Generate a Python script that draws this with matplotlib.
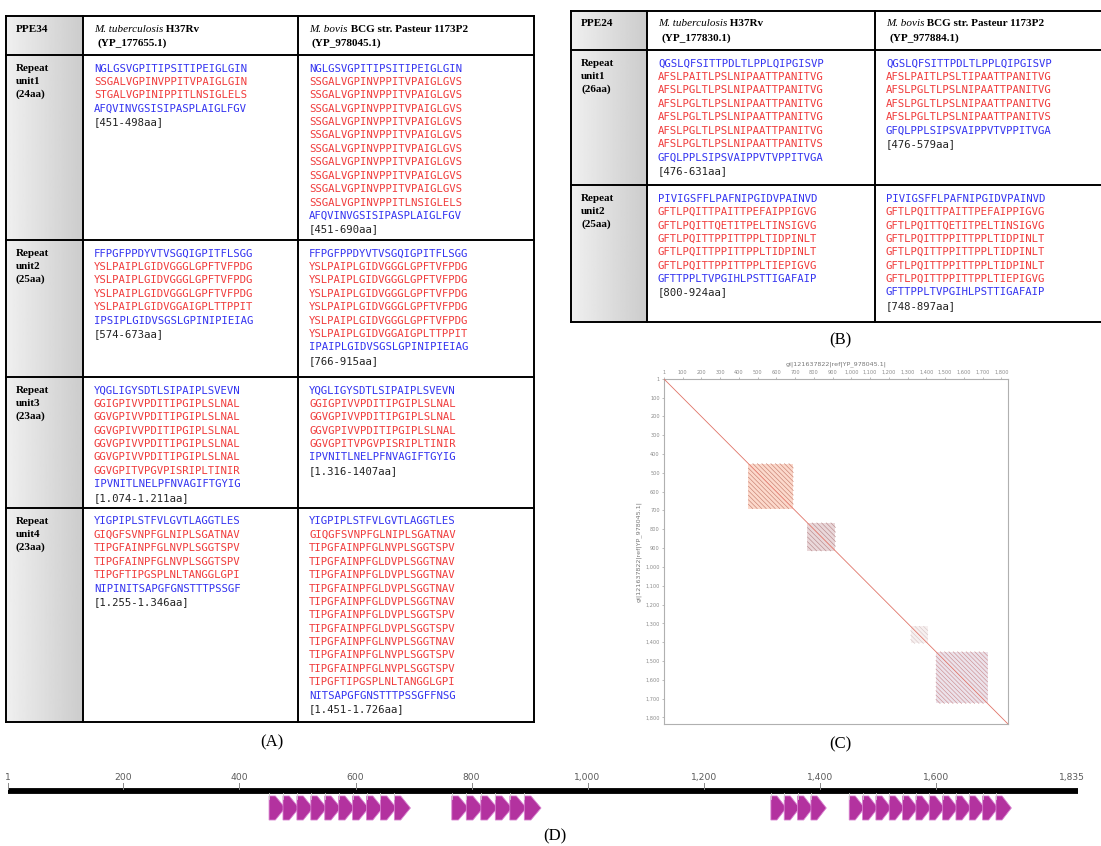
import numpy as np
import matplotlib.pyplot as plt
from matplotlib.patches import Polygon, Rectangle

W, H = 1101, 846

# ---------- (A) PPE34 ----------
ppe34_name = 'PPE34'
ppe34_italic = ['M. tuberculosis', 'M. bovis']
ppe34_bold = [' H37Rv', ' BCG str. Pasteur 1173P2']
ppe34_acc = ['(YP_177655.1)', '(YP_978045.1)']
ppe34_units = ['unit1', 'unit2', 'unit3', 'unit4']
ppe34_unit_len = ['(24aa)', '(25aa)', '(23aa)', '(23aa)']

ppe34_tb = [
    ['NGLGSVGPITIPSITIPEIGLGIN', 'SSGALVGPINVPPITVPAIGLGIN', 'STGALVGPINIPPITLNSIGLELS',
     'AFQVINVGSISIPASPLAIGLFGV'],
    ['FFPGFPPDYVTVSGQIGPITFLSGG', 'YSLPAIPLGIDVGGGLGPFTVFPDG', 'YSLPAIPLGIDVGGGLGPFTVFPDG',
     'YSLPAIPLGIDVGGGLGPFTVFPDG', 'YSLPAIPLGIDVGGAIGPLTTPPIT', 'IPSIPLGIDVSGSLGPINIPIEIAG'],
    ['YQGLIGYSDTLSIPAIPLSVEVN', 'GGIGPIVVPDITIPGIPLSLNAL', 'GGVGPIVVPDITIPGIPLSLNAL',
     'GGVGPIVVPDITIPGIPLSLNAL', 'GGVGPIVVPDITIPGIPLSLNAL', 'GGVGPIVVPDITIPGIPLSLNAL',
     'GGVGPITVPGVPISRIPLTINIR', 'IPVNITLNELPFNVAGIFTGYIG'],
    ['YIGPIPLSTFVLGVTLAGGTLES', 'GIQGFSVNPFGLNIPLSGATNAV', 'TIPGFAINPFGLNVPLSGGTSPV',
     'TIPGFAINPFGLNVPLSGGTSPV', 'TIPGFTIPGSPLNLTANGGLGPI', 'NIPINITSAPGFGNSTTTPSSGF'],
]
ppe34_tb_range = ['[451-498aa]', '[574-673aa]', '[1.074-1.211aa]', '[1.255-1.346aa]']

ppe34_bovis = [
    ['NGLGSVGPITIPSITIPEIGLGIN'] + ['SSGALVGPINVPPITVPAIGLGVS'] * 9 +
    ['SSGALVGPINVPPITLNSIGLELS', 'AFQVINVGSISIPASPLAIGLFGV'],
    ['FFPGFPPDYVTVSGQIGPITFLSGG'] + ['YSLPAIPLGIDVGGGLGPFTVFPDG'] * 5 +
    ['YSLPAIPLGIDVGGAIGPLTTPPIT', 'IPAIPLGIDVSGSLGPINIPIEIAG'],
    ['YQGLIGYSDTLSIPAIPLSVEVN', 'GGIGPIVVPDITIPGIPLSLNAL', 'GGVGPIVVPDITIPGIPLSLNAL',
     'GGVGPIVVPDITIPGIPLSLNAL', 'GGVGPITVPGVPISRIPLTINIR', 'IPVNITLNELPFNVAGIFTGYIG'],
    ['YIGPIPLSTFVLGVTLAGGTLES', 'GIQGFSVNPFGLNIPLSGATNAV', 'TIPGFAINPFGLNVPLSGGTSPV'] +
    ['TIPGFAINPFGLDVPLSGGTNAV'] * 4 + ['TIPGFAINPFGLDVPLSGGTSPV'] * 2 +
    ['TIPGFAINPFGLNVPLSGGTNAV'] + ['TIPGFAINPFGLNVPLSGGTSPV'] * 2 +
    ['TIPGFTIPGSPLNLTANGGLGPI', 'NITSAPGFGNSTTTPSSGFFNSG'],
]
ppe34_bovis_range = ['[451-690aa]', '[766-915aa]', '[1.316-1407aa]', '[1.451-1.726aa]']

# ---------- (B) PPE24 ----------
ppe24_name = 'PPE24'
ppe24_italic = ['M. tuberculosis', 'M. bovis']
ppe24_bold = [' H37Rv', ' BCG str. Pasteur 1173P2']
ppe24_acc = ['(YP_177830.1)', '(YP_977884.1)']
ppe24_units = ['unit1', 'unit2']
ppe24_unit_len = ['(26aa)', '(25aa)']

ppe24_tb = [
    ['QGSLQFSITTPDLTLPPLQIPGISVP', 'AFSLPAITLPSLNIPAATTPANITVG'] +
    ['AFSLPGLTLPSLNIPAATTPANITVG'] * 4 +
    ['AFSLPGLTLPSLNIPAATTPANITVS', 'GFQLPPLSIPSVAIPPVTVPPITVGA'],
    ['PIVIGSFFLPAFNIPGIDVPAINVD', 'GFTLPQITTPAITTPEFAIPPIGVG', 'GFTLPQITTQETITPELTINSIGVG'] +
    ['GFTLPQITTPPITTPPLTIDPINLT'] * 2 +
    ['GFTLPQITTPPITTPPLTIEPIGVG', 'GFTTPPLTVPGIHLPSTTIGAFAIP'],
]
ppe24_tb_range = ['[476-631aa]', '[800-924aa]']

ppe24_bovis = [
    ['QGSLQFSITTPDLTLPPLQIPGISVP', 'AFSLPAITLPSLTIPAATTPANITVG'] +
    ['AFSLPGLTLPSLNIPAATTPANITVG'] * 2 +
    ['AFSLPGLTLPSLNIPAATTPANITVS', 'GFQLPPLSIPSVAIPPVTVPPITVGA'],
    ['PIVIGSFFLPAFNIPGIDVPAINVD', 'GFTLPQITTPAITTPEFAIPPIGVG', 'GFTLPQITTQETITPELTINSIGVG'] +
    ['GFTLPQITTPPITTPPLTIDPINLT'] * 3 +
    ['GFTLPQITTPPITTPPLTIEPIGVG', 'GFTTPPLTVPGIHLPSTTIGAFAIP'],
]
ppe24_bovis_range = ['[476-579aa]', '[748-897aa]']

# ---------- (C)/(D) M. bovis PPE34 protein ----------
bovis_len = 1835
bovis_unit_aa = [24, 25, 23, 23]
dot_ticks = [1, 100, 200, 300, 400, 500, 600, 700, 800, 900, 1000, 1100, 1200,
             1300, 1400, 1500, 1600, 1700, 1800]
track_ticks = [1, 200, 400, 600, 800, 1000, 1200, 1400, 1600, 1835]
seq_id = 'gi|121637822|ref|YP_978045.1|'


def parse_range(s):
    a, b = s.strip('[]').replace('aa', '').replace('.', '').split('-')
    return int(a), int(b)


bovis_repeats = [parse_range(r) + (p,) for r, p in zip(ppe34_bovis_range, bovis_unit_aa)]

SERIF = 'Liberation Serif'
MONO = 'DejaVu Sans Mono'
BLUE = '#3434f0'
RED = '#f03c3c'
STEP = 13.4

fig = plt.figure(figsize=(W / 100, H / 100), dpi=100)
ax = fig.add_axes([0, 0, 1, 1])


def header(x, y, ital, bold, acc):
    t = ax.text(x, y, ital, fontfamily=SERIF, fontsize=8, fontstyle='italic', va='center')
    ax.annotate(bold, xy=(1, 0), xycoords=t, va='bottom', ha='left',
                fontfamily=SERIF, fontsize=8, fontweight='bold')
    ax.text(x + 3, y + 14, acc, fontfamily=SERIF, fontsize=8, fontweight='bold', va='center')


def seq_block(x, y, seqs, rng):
    for i, s in enumerate(seqs):
        c = BLUE if i in (0, len(seqs) - 1) else RED
        ax.text(x, y + i * STEP, s, fontfamily=MONO, fontsize=7.7, color=c, va='center')
    ax.text(x, y + len(seqs) * STEP, rng, fontfamily=MONO, fontsize=7.7, color='#222222',
            va='center')


def table(xs, ys, name, ital, bold, acc, units, ulen, tb, tb_rng, bv, bv_rng, hy):
    grad = np.linspace(0.94, 0.80, 60)[None, :]
    ax.imshow(grad, extent=(xs[0], xs[1], ys[-1], ys[0]), cmap='gray', vmin=0, vmax=1,
              aspect='auto', zorder=0)
    for y in ys:
        ax.plot([xs[0], xs[-1]], [y, y], color='black', lw=1.4, solid_capstyle='projecting')
    for x in xs:
        ax.plot([x, x], [ys[0], ys[-1]], color='black', lw=1.4, solid_capstyle='projecting')
    ax.text(xs[0] + 10, hy, name, fontfamily=SERIF, fontsize=8, fontweight='bold', va='center')
    for j in range(2):
        header(xs[j + 1] + 11, hy, ital[j], bold[j], acc[j])
    for i in range(len(units)):
        top = ys[i + 1] + 13.5
        for k, lab in enumerate(['Repeat', units[i], ulen[i]]):
            ax.text(xs[0] + 10, top + k * 13, lab, fontfamily=SERIF, fontsize=8,
                    fontweight='bold', va='center')
        seq_block(xs[1] + 11, top, tb[i], tb_rng[i])
        seq_block(xs[2] + 11, top, bv[i], bv_rng[i])


table([6, 83, 298, 534], [16, 55, 240, 377, 508, 722], ppe34_name, ppe34_italic, ppe34_bold,
      ppe34_acc, ppe34_units, ppe34_unit_len, ppe34_tb, ppe34_tb_range, ppe34_bovis,
      ppe34_bovis_range, 29)
table([571, 647, 875, 1105], [11, 50, 185, 322], ppe24_name, ppe24_italic, ppe24_bold,
      ppe24_acc, ppe24_units, ppe24_unit_len, ppe24_tb, ppe24_tb_range, ppe24_bovis,
      ppe24_bovis_range, 24)

for lab, x, y in [('(A)', 272, 742), ('(B)', 840, 340), ('(C)', 840, 744), ('(D)', 555, 836)]:
    ax.text(x, y, lab, fontfamily=SERIF, fontsize=12, ha='center', va='center')

ax.set_xlim(0, W)
ax.set_ylim(H, 0)
ax.axis('off')

# ---------- (C) dot plot ----------
dp = fig.add_axes([664 / W, 1 - 724 / H, 344 / W, 345 / H])
dp.set_xlim(1, bovis_len)
dp.set_ylim(bovis_len, 1)
fills = ['#fcd9cc', '#ead8da', '#f7f0f0', '#ece2ea']
hatch = ['#c78070', '#b88a8c', '#d8c8c8', '#cc8f92']
for (s, e, p), fc, hc in zip(bovis_repeats, fills, hatch):
    dp.add_patch(Rectangle((s, s), e - s, e - s, facecolor=fc, edgecolor='none', zorder=1))
    n = (e - s + 1) // p
    for k in range(1, n):
        off = k * p
        dp.plot([s + off, e], [s, e - off], color=hc, lw=0.45, zorder=2)
        dp.plot([s, e - off], [s + off, e], color=hc, lw=0.45, zorder=2)
dp.plot([1, bovis_len], [1, bovis_len], color='#e07468', lw=0.6, zorder=3)
dp.xaxis.tick_top()
dp.set_xticks(dot_ticks)
dp.set_yticks(dot_ticks)
dp.set_xticklabels([f'{t:,}' for t in dot_ticks])
dp.set_yticklabels([f'{t:,}' for t in dot_ticks])
dp.tick_params(labelsize=3.6, colors='#8a8a8a', length=1.5, width=0.4, pad=1.5)
dp.xaxis.set_label_position('top')
dp.set_xlabel(seq_id, fontsize=4.6, color='#777777', labelpad=3)
dp.set_ylabel(seq_id, fontsize=4.6, color='#777777', labelpad=3)
for sp in dp.spines.values():
    sp.set_color('#b0b0b0')
    sp.set_linewidth(0.8)

# ---------- (D) repeat track ----------
tr = fig.add_axes([8 / W, 1 - 830 / H, 1064 / W, 70 / H])
tr.set_xlim(1, bovis_len)
tr.set_ylim(830, 760)
tr.axis('off')
tr.plot([1, bovis_len + 10], [791, 791], color='black', lw=4.2, solid_capstyle='butt',
        clip_on=False)
for t in track_ticks:
    tr.plot([t, t], [783, 789], color='#888888', lw=0.7)
    tr.text(t, 777, f'{t:,}', fontsize=6.6, color='#5a5a5a', ha='center', va='center')
for s, e, p in bovis_repeats:
    n = (e - s + 1) // p
    for k in range(n):
        a = s + k * p
        b = a + p
        tr.add_patch(Polygon([(a, 796), (a + 0.45 * p, 796), (b + 0.15 * p, 808),
                              (a + 0.45 * p, 820), (a, 820)], closed=True,
                             facecolor='#b3329f', edgecolor='#d880cf', lw=0.6))
        tr.plot([a, a], [793, 799], color='#d0d0d0', lw=0.6)

fig.savefig('out.png', dpi=100)
